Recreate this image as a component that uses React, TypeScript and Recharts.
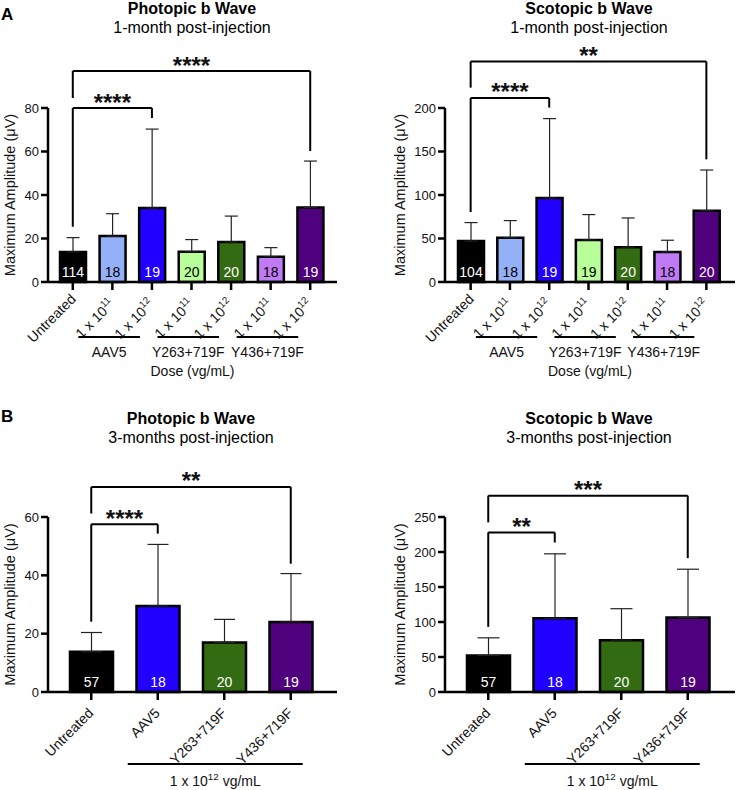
import React from "react";
import { BarChart, Bar, XAxis, YAxis, ErrorBar, Cell, LabelList, ReferenceLine } from "recharts";

const FONT = '"Liberation Sans", Arial, Helvetica, sans-serif';

// ---- 1 month: dose groups ----
const doseIds = ["u", "a11", "a12", "y263_11", "y263_12", "y436_11", "y436_12"];
const doseLabels = ["Untreated", "1 x 10^11", "1 x 10^12", "1 x 10^11", "1 x 10^12", "1 x 10^11", "1 x 10^12"];
const doseGroups = ["", "AAV5", "AAV5", "Y263+719F", "Y263+719F", "Y436+719F", "Y436+719F"];
const doseColors = ["#000000", "#94b1f7", "#2200ff", "#b8ff9a", "#336b12", "#c07af5", "#4f007d"];
const doseTextColors = ["#fff", "#000", "#fff", "#000", "#fff", "#000", "#fff"];

const photopic1Mean = [13.8, 21.1, 34.0, 13.9, 18.4, 11.6, 34.3];
const photopic1Sd = [6.6, 10.3, 36.3, 5.6, 11.9, 4.2, 21.3];
const photopic1N = [114, 18, 19, 20, 20, 18, 19];
const photopic1Ticks = [0, 20, 40, 60, 80];

const scotopic1Mean = [47, 51, 96.6, 48.3, 40, 34.5, 82];
const scotopic1Sd = [21.3, 19.6, 91.2, 29.2, 33.6, 13.5, 46.7];
const scotopic1N = [104, 18, 19, 19, 20, 18, 20];
const scotopic1Ticks = [0, 50, 100, 150, 200];

// ---- 3 months: vectors at 1e12 ----
const vectorIds = ["u", "aav5", "y263", "y436"];
const vectorLabels = ["Untreated", "AAV5", "Y263+719F", "Y436+719F"];
const vectorGroups = ["", "1 x 10^12 vg/mL", "1 x 10^12 vg/mL", "1 x 10^12 vg/mL"];
const vectorColors = ["#000000", "#2200ff", "#336b12", "#4f007d"];
const vectorTextColors = ["#fff", "#fff", "#fff", "#fff"];

const photopic3Mean = [13.8, 29.5, 17.0, 24.0];
const photopic3Sd = [6.6, 21.1, 7.9, 16.6];
const photopic3N = [57, 18, 20, 19];
const photopic3Ticks = [0, 20, 40, 60];

const scotopic3Mean = [52.2, 105.2, 74.1, 106.6];
const scotopic3Sd = [25.2, 92.2, 44.9, 68.8];
const scotopic3N = [57, 18, 20, 19];
const scotopic3Ticks = [0, 50, 100, 150, 200, 250];

// significance brackets: from/to category, bracket height, leg ends, stars
const photopic1Brackets = [
  { from: "u", to: "a12", y: 80, fromEnd: 25.4, toEnd: 75.4, stars: "****" },
  { from: "u", to: "y436_12", y: 97, fromEnd: 84.6, toEnd: 60.2, stars: "****" },
];
const scotopic1Brackets = [
  { from: "u", to: "a12", y: 211.5, fromEnd: 80.5, toEnd: 200.5, stars: "****" },
  { from: "u", to: "y436_12", y: 253.5, fromEnd: 223.4, toEnd: 141, stars: "**" },
];
const photopic3Brackets = [
  { from: "u", to: "aav5", y: 57.5, fromEnd: 24.1, toEnd: 54.3, stars: "****" },
  { from: "u", to: "y436", y: 70.3, fromEnd: 61.2, toEnd: 44, stars: "**" },
];
const scotopic3Brackets = [
  { from: "u", to: "aav5", y: 228, fromEnd: 93, toEnd: 213.6, stars: "**" },
  { from: "u", to: "y436", y: 280.5, fromEnd: 242.3, toEnd: 191.2, stars: "***" },
];

function richText(s: string, size: number) {
  const m = s.match(/^(.*?)\^(\d+)(.*)$/);
  if (!m) return s;
  return [
    <tspan key="a">{m[1]}</tspan>,
    <tspan key="b" dy={-6} fontSize={size * 0.7}>{m[2]}</tspan>,
    m[3] ? <tspan key="c" dy={6}>{m[3]}</tspan> : null,
  ];
}

const TICK_SIZE = 8;
const TICK_MARGIN = 2;

function makeTick(cfg: any) {
  return (props: any) => {
    const { x, y, payload } = props;
    const y0 = y - TICK_SIZE - TICK_MARGIN;
    const i = cfg.ids.indexOf(payload.value);
    const label: string = cfg.labels[i];
    const hasExp = label.includes("^");
    const ax = x + cfg.tdx + (hasExp ? cfg.expDx : 0);
    const ay = y0 + cfg.tdy + (hasExp ? cfg.expDy : 0);
    const group = cfg.groups[i];
    let deco = null;
    if (group && cfg.groups[i - 1] !== group) {
      const count = cfg.groups.filter((g: string) => g === group).length;
      const x1 = x + cfg.lineL;
      const x2 = x + (count - 1) * cfg.band + cfg.lineR;
      deco = (
        <g>
          <line x1={x1} x2={x2} y1={y0 + cfg.lineDy} y2={y0 + cfg.lineDy} stroke="#000" strokeWidth={2} />
          <text x={(x1 + x2) / 2} y={y0 + cfg.groupDy} textAnchor="middle" fontSize={14} fill="#111" fontFamily={FONT}>
            {richText(group, 14)}
          </text>
        </g>
      );
    }
    return (
      <g>
        <g transform={`translate(${ax},${ay})`}>
          <text textAnchor="end" transform="rotate(-45)" fontSize={14} fill="#111" fontFamily={FONT}>
            {richText(label, 14)}
          </text>
        </g>
        {deco}
      </g>
    );
  };
}

function starLabel(text: string) {
  return (p: any) => {
    const vb = p.viewBox || {};
    return (
      <text x={vb.x + (vb.width || 0) / 2} y={vb.y + 2.5} textAnchor="middle" fontSize={24} fontWeight={700} fill="#111" fontFamily={FONT}>
        {text}
      </text>
    );
  };
}

function Panel(props: any) {
  const { g, ids, labels, groups, mean, sd, n, colors, textColors, ticks, brackets, xLabel } = props;
  const data = ids.map((id: string, i: number) => ({ id, mean: mean[i], err: [0, sd[i]], n: n[i] }));
  const plotW = g.width - g.margin.left - g.margin.right - g.yWidth;
  const band = (plotW - g.padL - g.padR) / ids.length;
  const tick = makeTick({ ids, labels, groups, band, ...g.tickCfg });
  const axisStyle = { stroke: "#000", strokeWidth: 2.5 };
  const renderN = (p: any) => {
    const { x, y, width, height, index } = p;
    return (
      <text x={x + width / 2} y={y + height - 5.5} textAnchor="middle" fontSize={14} fill={textColors[index]} fontFamily={FONT}>
        {n[index]}
      </text>
    );
  };
  return (
    <div style={{ position: "absolute", left: g.left, top: g.top }}>
      <BarChart width={g.width} height={g.height} data={data} margin={g.margin}>
        <XAxis
          dataKey="id"
          type="category"
          interval={0}
          padding={{ left: g.padL, right: g.padR }}
          height={g.xHeight}
          tickSize={TICK_SIZE}
          tickMargin={TICK_MARGIN}
          axisLine={axisStyle}
          tickLine={axisStyle}
          tick={tick}
          label={xLabel ? { value: xLabel, position: "insideBottom", offset: 14, fontSize: 14, fill: "#111", fontFamily: FONT } : undefined}
        />
        <YAxis
          type="number"
          domain={[0, ticks[ticks.length - 1]]}
          ticks={ticks}
          interval={0}
          width={g.yWidth}
          tickSize={7}
          tickMargin={2}
          axisLine={axisStyle}
          tickLine={axisStyle}
          tick={{ fontSize: 13, fill: "#111", fontFamily: FONT }}
          label={{
            value: "Maximum Amplitude (μV)",
            angle: -90,
            position: "insideLeft",
            offset: 5,
            fontSize: 14.5,
            fill: "#111",
            fontFamily: FONT,
            style: { textAnchor: "middle" },
          }}
        />
        <Bar dataKey="mean" barSize={g.barSize} stroke="#000" strokeWidth={2.5} isAnimationActive={false}>
          {data.map((d: any, i: number) => (
            <Cell key={d.id} fill={colors[i]} />
          ))}
          <ErrorBar dataKey="err" width={g.cap} stroke="#222" strokeWidth={1.2} isAnimationActive={false} />
          <LabelList dataKey="n" content={renderN} />
        </Bar>
        {brackets.map((b: any, k: number) => [
          <ReferenceLine
            key={`h${k}`}
            segment={[{ x: b.from, y: b.y }, { x: b.to, y: b.y }]}
            stroke="#000"
            strokeWidth={2}
            ifOverflow="visible"
            label={{ content: starLabel(b.stars) }}
          />,
          <ReferenceLine key={`l${k}`} segment={[{ x: b.from, y: b.y }, { x: b.from, y: b.fromEnd }]} stroke="#000" strokeWidth={2} ifOverflow="visible" />,
          <ReferenceLine key={`r${k}`} segment={[{ x: b.to, y: b.y }, { x: b.to, y: b.toEnd }]} stroke="#000" strokeWidth={2} ifOverflow="visible" />,
        ])}
      </BarChart>
    </div>
  );
}

function Title({ cx, top, title, sub }: any) {
  const base: any = { position: "absolute", left: cx - 160, width: 320, textAlign: "center", fontSize: 16, lineHeight: "18px", color: "#000" };
  return (
    <>
      <div style={{ ...base, top, fontWeight: 700 }}>{title}</div>
      <div style={{ ...base, top: top + 19 }}>{sub}</div>
    </>
  );
}

const tickA = { tdx: 4, tdy: 18, expDx: -1, expDy: 5, lineL: -34, lineR: -12, lineDy: 55, groupDy: 75 };
const tickB = { tdx: 3, tdy: 22, expDx: 0, expDy: 0, lineL: -30, lineR: 12, lineDy: 72, groupDy: 94 };

const geoPL1 = { left: 0, top: 0, width: 368, height: 390, margin: { top: 108, right: 31, bottom: 0, left: 5 }, yWidth: 43, padL: 5, padR: 7, xHeight: 108, barSize: 26, cap: 6.5, tickCfg: tickA };
const geoSR1 = { left: 368, top: 0, width: 368, height: 390, margin: { top: 108, right: 1, bottom: 0, left: 27 }, yWidth: 50, padL: 6, padR: 9, xHeight: 108, barSize: 26, cap: 6.5, tickCfg: tickA };
const geoPL3 = { left: 0, top: 400, width: 368, height: 390, margin: { top: 117, right: 31, bottom: 0, left: 5 }, yWidth: 43, padL: 10, padR: 13, xHeight: 98, barSize: 43, cap: 10.5, tickCfg: tickB };
const geoSR3 = { left: 368, top: 400, width: 368, height: 390, margin: { top: 117, right: 1, bottom: 0, left: 27 }, yWidth: 50, padL: 10, padR: 14, xHeight: 98, barSize: 43, cap: 11, tickCfg: tickB };

export default function App() {
  const dose = { ids: doseIds, labels: doseLabels, groups: doseGroups, colors: doseColors, textColors: doseTextColors };
  const vec = { ids: vectorIds, labels: vectorLabels, groups: vectorGroups, colors: vectorColors, textColors: vectorTextColors };
  return (
    <div style={{ position: "absolute", left: 0, top: 0, width: 736, height: 790, background: "#fff", fontFamily: FONT, overflow: "hidden" }}>
      <Panel g={geoPL1} {...dose} mean={photopic1Mean} sd={photopic1Sd} n={photopic1N} ticks={photopic1Ticks} brackets={photopic1Brackets} xLabel="Dose (vg/mL)" />
      <Panel g={geoSR1} {...dose} mean={scotopic1Mean} sd={scotopic1Sd} n={scotopic1N} ticks={scotopic1Ticks} brackets={scotopic1Brackets} xLabel="Dose (vg/mL)" />
      <Panel g={geoPL3} {...vec} mean={photopic3Mean} sd={photopic3Sd} n={photopic3N} ticks={photopic3Ticks} brackets={photopic3Brackets} />
      <Panel g={geoSR3} {...vec} mean={scotopic3Mean} sd={scotopic3Sd} n={scotopic3N} ticks={scotopic3Ticks} brackets={scotopic3Brackets} />
      <div style={{ position: "absolute", left: 1, top: 6, fontSize: 17, lineHeight: "17px", fontWeight: 700 }}>A</div>
      <div style={{ position: "absolute", left: 1, top: 408, fontSize: 17, lineHeight: "17px", fontWeight: 700 }}>B</div>
      <Title cx={192} top={0} title="Photopic b Wave" sub="1-month post-injection" />
      <Title cx={589} top={0} title="Scotopic b Wave" sub="1-month post-injection" />
      <Title cx={191} top={410} title="Photopic b Wave" sub="3-months post-injection" />
      <Title cx={589} top={410} title="Scotopic b Wave" sub="3-months post-injection" />
    </div>
  );
}
